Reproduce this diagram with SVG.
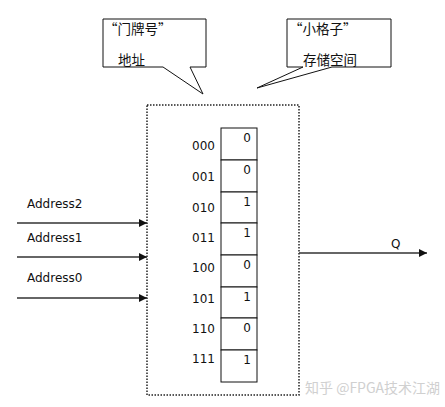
<svg xmlns="http://www.w3.org/2000/svg" width="445" height="407" viewBox="0 0 445 407">
<style>
.lbl{font-family:"DejaVu Sans","Liberation Sans",sans-serif;font-size:12px;fill:#111}
.cjk{font-family:"Noto Sans CJK SC","Liberation Serif",sans-serif;font-size:13.5px;fill:#111}
.cell{fill:#fff;stroke:#111;stroke-width:1}
.call{fill:#fff;stroke:#111;stroke-width:1}
.wire{stroke:#333;stroke-width:1.3;fill:none}
</style>
<defs>
<marker id="arr" viewBox="0 0 10 10" refX="10" refY="5" markerWidth="8" markerHeight="8" markerUnits="userSpaceOnUse" orient="auto">
<path d="M0,0 L10,5 L0,10 z" fill="#111"/>
</marker>
</defs>
<rect width="445" height="407" fill="#fff"/>

<g id="callout-address">
<path class="call" d="M103,19 H206 V67 H190 L203,94 L163,67 H103 Z"/>
<text class="cjk" x="104" y="34">“门牌号”</text>
<text class="cjk" x="118" y="65">地址</text>
</g>

<g id="callout-storage">
<path class="call" d="M287,19 H391 V67 H332 L257,88 L303,67 H287 Z"/>
<text class="cjk" x="289" y="34">“小格子”</text>
<text class="cjk" x="303" y="65">存储空间</text>
</g>

<g id="memory">
<rect x="147" y="105" width="152" height="290" fill="none" stroke="#222" stroke-width="1.5" stroke-dasharray="1.5 1.5"/>
<g id="cells">
<rect class="cell" x="221" y="128" width="36" height="32"/>
<rect class="cell" x="221" y="160" width="36" height="32"/>
<rect class="cell" x="221" y="192" width="36" height="31"/>
<rect class="cell" x="221" y="223" width="36" height="32"/>
<rect class="cell" x="221" y="255" width="36" height="32"/>
<rect class="cell" x="221" y="287" width="36" height="31"/>
<rect class="cell" x="221" y="318" width="36" height="32"/>
<rect class="cell" x="221" y="350" width="36" height="32"/>
</g>
<g class="lbl" text-anchor="end">
<text x="251" y="142">0</text>
<text x="251" y="174">0</text>
<text x="251" y="206">1</text>
<text x="251" y="237">1</text>
<text x="251" y="269">0</text>
<text x="251" y="301">1</text>
<text x="251" y="332">0</text>
<text x="251" y="364">1</text>
</g>
<g class="lbl">
<text x="192" y="150">000</text>
<text x="192" y="181">001</text>
<text x="192" y="212">010</text>
<text x="192" y="242">011</text>
<text x="192" y="272">100</text>
<text x="192" y="303">101</text>
<text x="192" y="333">110</text>
<text x="192" y="363">111</text>
</g>
</g>

<g id="connectors">
<line class="wire" x1="17" y1="223" x2="147" y2="223" marker-end="url(#arr)"/>
<line class="wire" x1="17" y1="257" x2="147" y2="257" marker-end="url(#arr)"/>
<line class="wire" x1="17" y1="298" x2="147" y2="298" marker-end="url(#arr)"/>
<line class="wire" x1="299" y1="253" x2="427" y2="253" marker-end="url(#arr)"/>
</g>

<g id="labels">
<text class="lbl" x="27" y="208">Address2</text>
<text class="lbl" x="27" y="242">Address1</text>
<text class="lbl" x="27" y="282">Address0</text>
<text class="lbl" x="391" y="248">Q</text>
</g>

<text x="305" y="393" font-family="'Noto Sans CJK SC',sans-serif" font-size="14" fill="#d0d0d0">知乎 @FPGA技术江湖</text>
</svg>
